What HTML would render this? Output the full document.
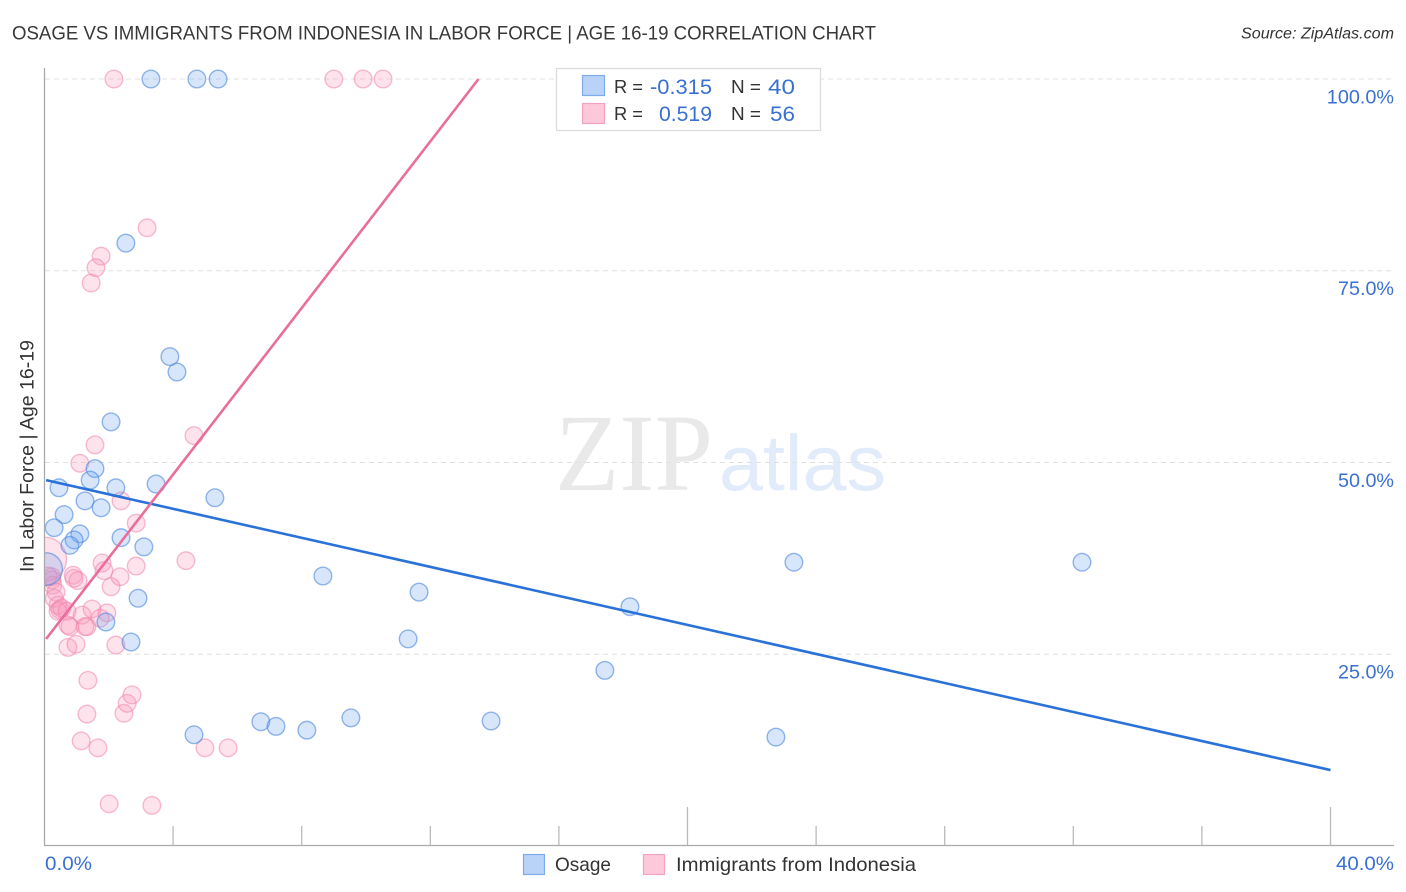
<!DOCTYPE html>
<html lang="en">
<head>
<meta charset="utf-8">
<title>Osage vs Immigrants from Indonesia in Labor Force | Age 16-19 Correlation Chart</title>
<style>
html,body{margin:0;padding:0;background:#fff;width:1406px;height:892px;overflow:hidden}
svg{display:block}
text{font-family:"Liberation Sans",sans-serif}
</style>
</head>
<body>
<svg id="chart" xmlns="http://www.w3.org/2000/svg" width="1406" height="892" viewBox="0 0 1406 892">
  <text x="12" y="39.5" font-size="19.5" fill="#383838" textLength="864" lengthAdjust="spacingAndGlyphs">OSAGE VS IMMIGRANTS FROM INDONESIA IN LABOR FORCE | AGE 16-19 CORRELATION CHART</text>
  <text x="1241" y="38.5" font-size="15.5" font-style="italic" fill="#333" textLength="153" lengthAdjust="spacingAndGlyphs">Source: ZipAtlas.com</text>
  <text x="555" y="490" font-size="110" fill="#e9e9e9" style="font-family:'Liberation Serif',serif" textLength="158" lengthAdjust="spacingAndGlyphs">ZIP</text>
  <text x="719" y="490" font-size="79" fill="#e2ebf9" textLength="167" lengthAdjust="spacingAndGlyphs">atlas</text>
  <g id="grid"></g>
  <g id="points"></g>
  <rect x="0" y="60" width="44.5" height="800" fill="#fff"/>
  <g id="axes"></g>
  <g id="trends"></g>
  <text transform="translate(33.5,572) rotate(-90)" font-size="19" fill="#333" textLength="232" lengthAdjust="spacingAndGlyphs">In Labor Force | Age 16-19</text>

  <g>
    <rect x="556.5" y="68.5" width="264" height="62" fill="#fff" stroke="#dcdcdc" stroke-width="1.3"/>
    <rect x="582.5" y="75.5" width="22" height="20" fill="#b9d3f8" stroke="#7fabe8" stroke-width="1.2"/>
    <rect x="582.5" y="103.5" width="22" height="20" fill="#fcc8da" stroke="#f3a3bf" stroke-width="1.2"/>
    <text x="614" y="93" font-size="18.5" fill="#333" textLength="29" lengthAdjust="spacingAndGlyphs">R =</text>
    <text x="650" y="94" font-size="21" fill="#3a70d2" textLength="62" lengthAdjust="spacingAndGlyphs">-0.315</text>
    <text x="731" y="93" font-size="18.5" fill="#333" textLength="30" lengthAdjust="spacingAndGlyphs">N =</text>
    <text x="768" y="94" font-size="21" fill="#3a70d2" textLength="27" lengthAdjust="spacingAndGlyphs">40</text>
    <text x="614" y="120" font-size="18.5" fill="#333" textLength="29" lengthAdjust="spacingAndGlyphs">R =</text>
    <text x="659" y="121" font-size="21" fill="#3a70d2" textLength="53" lengthAdjust="spacingAndGlyphs">0.519</text>
    <text x="731" y="120" font-size="18.5" fill="#333" textLength="30" lengthAdjust="spacingAndGlyphs">N =</text>
    <text x="770" y="121" font-size="21" fill="#3a70d2" textLength="25" lengthAdjust="spacingAndGlyphs">56</text>
  </g>

  <g>
    <rect x="523.5" y="854.5" width="21" height="20" fill="#b9d3f8" stroke="#7fabe8" stroke-width="1.2"/>
    <text x="555" y="871" font-size="19.5" fill="#333" textLength="56" lengthAdjust="spacingAndGlyphs">Osage</text>
    <rect x="643.5" y="854.5" width="21" height="20" fill="#fcc8da" stroke="#f3a3bf" stroke-width="1.2"/>
    <text x="676" y="871" font-size="19.5" fill="#333" textLength="240" lengthAdjust="spacingAndGlyphs">Immigrants from Indonesia</text>
  </g>
</svg>
<script>
var yTicks = [100, 75, 50, 25];
var yTickLabels = ['100.0%', '75.0%', '50.0%', '25.0%'];
var xTicks = [0, 4, 8, 12, 16, 20, 24, 28, 32, 36, 40];
var xMajorTicks = [20, 40];
var xEndLabels = ['0.0%', '40.0%'];

var osageX = [3.31,4.74,5.40,2.53,3.90,4.12,2.07,1.57,1.42,0.45,2.22,3.47,1.26,5.30,1.76,0.61,0.30,1.10,0.92,0.79,2.38,3.09,0.05,8.66,11.65,2.91,1.91,2.69,11.31,18.21,23.31,32.27,17.43,13.89,9.53,6.73,7.20,8.16,4.65,22.75];
var osageY = [100,100,100,78.6,63.8,61.8,55.3,49.2,47.7,46.7,46.7,47.2,45.0,45.4,44.1,43.2,41.5,40.7,39.9,39.2,40.2,39.0,36.1,35.2,33.1,32.3,29.2,26.6,27.0,31.2,37.0,37.0,22.9,16.3,16.7,16.2,15.6,15.1,14.5,14.2];
var osageWeight = [1,1,1,1,1,1,1,1,1,1,1,1,1,1,1,1,1,1,1,1,1,1,1.85,1,1,1,1,1,1,1,1,1,1,1,1,1,1,1,1,1];

var indonesiaX = [2.16,9.00,9.91,10.53,3.19,1.76,1.60,1.45,4.65,1.57,1.10,2.38,2.85,0,4.40,1.79,1.85,2.85,2.35,2.07,0.89,0.92,1.04,0.23,0.23,0.26,0.36,0.11,0.30,0.42,0.48,0.42,0.54,0.70,1.17,1.48,1.94,1.73,0.73,0.79,1.26,1.32,0.73,0.98,2.22,1.35,1.32,2.47,2.57,2.72,1.14,1.66,4.99,5.71,2.01,3.34];
var indonesiaY = [100,100,100,100,80.6,76.9,75.4,73.4,53.5,52.3,49.9,45.0,42.1,37.4,37.2,36.9,35.9,36.5,35.1,33.8,35.3,34.9,34.6,35.1,34.7,34.0,33.1,35.2,32.3,31.4,30.8,30.6,31.0,30.6,30.1,30.9,30.4,29.7,28.8,28.6,28.6,28.6,25.9,26.3,26.2,21.6,17.2,17.3,18.6,19.7,13.7,12.8,12.8,12.8,5.5,5.3];
var indonesiaWeight = [1,1,1,1,1,1,1,1,1,1,1,1,1,2.5,1,1,1,1,1,1,1,1,1,1,1,1,1,1,1,1,1,1,1,1,1,1,1,1,1,1,1,1,1,1,1,1,1,1,1,1,1,1,1,1,1,1];

var osageTrendX = [0.05, 40];
var osageTrendY = [47.7, 9.9];
var indonesiaTrendX = [0.05, 13.5];
var indonesiaTrendY = [27.0, 100];

var SVGNS = 'http://www.w3.org/2000/svg';
function sx(v) { return 44.5 + v * 32.15; }
function sy(v) { return 846 - v * 7.67; }
function make(tag, parent, props) {
  var el = document.createElementNS(SVGNS, tag);
  for (var k in props) { el.setAttribute(k, props[k]); }
  parent.appendChild(el);
  return el;
}

var grid = document.getElementById('grid');
var axes = document.getElementById('axes');
var pointsLayer = document.getElementById('points');
var trends = document.getElementById('trends');

yTicks.forEach(function (t, i) {
  var line = make('line', grid, {x1: 45, x2: 1394, y1: sy(t), y2: sy(t), stroke: '#e0e0e0', 'stroke-width': 1, 'stroke-dasharray': '5 4'});
  
  
  var label = make('text', axes, {x: 1394, y: sy(t) + 24.4, 'text-anchor': 'end', 'font-size': 19.5, fill: '#3a70d2', textLength: 11.2 * yTickLabels[i].length, lengthAdjust: 'spacingAndGlyphs'});
  label.textContent = yTickLabels[i];
  
  
});

var yAxis = make('line', axes, {x1: 44.5, x2: 44.5, y1: 68, y2: 846, stroke: '#aaa', 'stroke-width': 1.3});


var xAxis = make('line', axes, {x1: 44, x2: 1394, y1: 845.5, y2: 845.5, stroke: '#aaa', 'stroke-width': 1.3});



xTicks.slice(1).forEach(function (t) {
  var major = xMajorTicks.indexOf(t) >= 0;
  var tick = make('line', axes, {x1: sx(t), x2: sx(t), y1: major ? 807 : 826, y2: 845, stroke: '#bbb', 'stroke-width': 1.3});
  
  
});

var xLabelLeft = make('text', axes, {x: 45, y: 870, 'font-size': 19.5, fill: '#3a70d2', textLength: 47, lengthAdjust: 'spacingAndGlyphs'});
xLabelLeft.textContent = xEndLabels[0];


var xLabelRight = make('text', axes, {x: 1336, y: 870, 'font-size': 19.5, fill: '#3a70d2', textLength: 58, lengthAdjust: 'spacingAndGlyphs'});
xLabelRight.textContent = xEndLabels[1];



indonesiaX.forEach(function (v, i) {
  var c = make('circle', pointsLayer, {cx: sx(v), cy: sy(indonesiaY[i]), r: 8.8 * indonesiaWeight[i], fill: 'rgba(250,150,185,0.28)', stroke: 'rgba(240,135,172,0.55)', 'stroke-width': 1.4});
  
  
});
osageX.forEach(function (v, i) {
  var c = make('circle', pointsLayer, {cx: sx(v), cy: sy(osageY[i]), r: 8.8 * osageWeight[i], fill: 'rgba(110,165,240,0.28)', stroke: 'rgba(75,135,222,0.6)', 'stroke-width': 1.4});
  
  
});

var osageLine = make('line', trends, {x1: sx(osageTrendX[0]), y1: sy(osageTrendY[0]), x2: sx(osageTrendX[1]), y2: sy(osageTrendY[1]), stroke: '#2a72d8', 'stroke-width': 2.6});


var indonesiaLine = make('line', trends, {x1: sx(indonesiaTrendX[0]), y1: sy(indonesiaTrendY[0]), x2: sx(indonesiaTrendX[1]), y2: sy(indonesiaTrendY[1]), stroke: '#ea6e9b', 'stroke-width': 2.6});


</script>
</body>
</html>
